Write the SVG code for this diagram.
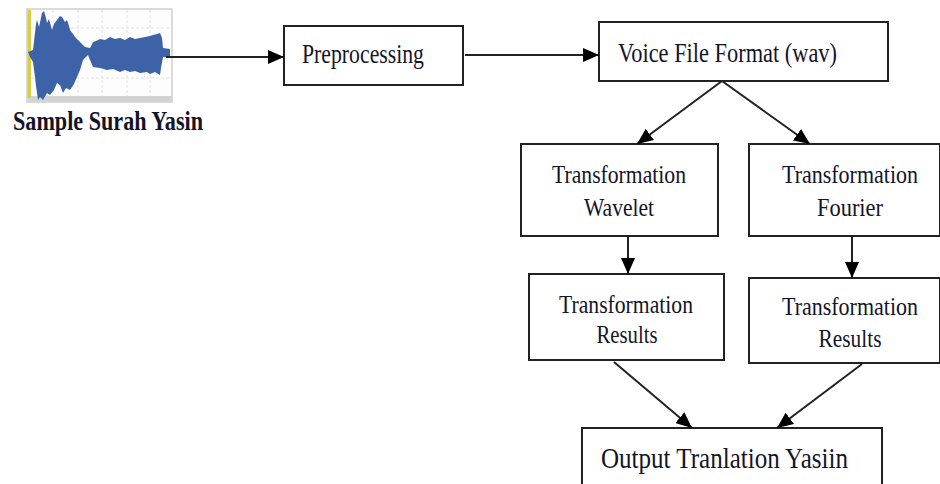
<svg xmlns="http://www.w3.org/2000/svg" width="940" height="484" viewBox="0 0 940 484">
<style>
.box{fill:#fff;stroke:#222;stroke-width:2}
.t{font-family:"Liberation Serif","Times New Roman",serif;fill:#141428}
.m{text-anchor:middle}
.c{stroke:#222;stroke-width:2;fill:none}
.grid{stroke:#e2e2e2;stroke-width:1;stroke-dasharray:3 2}
</style>
<defs>
<marker id="ah" viewBox="0 0 16 14" refX="16" refY="7" markerWidth="16" markerHeight="14" markerUnits="userSpaceOnUse" orient="auto">
<path d="M0,0 L16,7 L0,14 Z" fill="#000"/>
</marker>
</defs>
<g id="sample">
<rect x="27" y="9" width="145" height="93" fill="#fdfdfd" stroke="#d0d0d0" stroke-width="1.5"/>
<rect x="28" y="96" width="144" height="6" fill="#d3d3d3"/>
<g class="grid">
<line x1="53" y1="10" x2="53" y2="96"/><line x1="78" y1="10" x2="78" y2="96"/><line x1="102" y1="10" x2="102" y2="96"/><line x1="127" y1="10" x2="127" y2="96"/><line x1="150" y1="10" x2="150" y2="96"/>
<line x1="31" y1="28" x2="171" y2="28"/><line x1="31" y1="53" x2="171" y2="53"/><line x1="31" y1="78" x2="171" y2="78"/>
</g>
<rect x="27.5" y="10" width="3.5" height="88" fill="#d8d040"/>
<path fill="#3d62a8" d="M28,52 L33,50 L36,24 L37,20 L39,27 L42,13 L44,11 L46,18 L47,23 L49,19 L52,30 L54,24 L57,20 L60,16 L62,17 L65,22 L67,20 L69,26 L70,30 L73,34 L75,37 L78,40 L80,42 L83,45 L85,47 L90,48 L93,42 L96,41 L100,39 L105,40 L110,37 L115,39 L120,38 L125,40 L130,37 L135,39 L140,38 L145,37 L150,36 L153,35 L157,34 L160,33 L162,38 L163,48 L170,49 L170,57 L163,57 L161,68 L160,75 L155,72 L150,74 L147,72 L140,73 L135,71 L130,72 L125,70 L120,72 L113,69 L107,70 L100,68 L93,67 L90,60 L88,55 L85,58 L83,60 L80,70 L77,77 L74,84 L70,90 L66,88 L63,93 L60,85 L57,83 L54,90 L50,95 L47,93 L43,100 L40,97 L38,100 L36,86 L35,77 L33,62 L30,57 Z"/>
<text class="t" x="13" y="130" font-size="27" font-weight="bold" textLength="190" lengthAdjust="spacingAndGlyphs">Sample Surah Yasin</text>
</g>
<g id="preprocessing">
<rect class="box" x="284" y="26" width="179" height="59"/>
<text class="t" x="302" y="63" font-size="27" textLength="122" lengthAdjust="spacingAndGlyphs">Preprocessing</text>
</g>
<g id="voice">
<rect class="box" x="599" y="22" width="289" height="59"/>
<text class="t" x="618" y="62" font-size="27" textLength="219" lengthAdjust="spacingAndGlyphs">Voice File Format (wav)</text>
</g>
<g id="wavelet">
<rect class="box" x="521" y="144" width="197" height="92"/>
<text class="t m" x="619" y="183" font-size="26" textLength="134" lengthAdjust="spacingAndGlyphs">Transformation</text>
<text class="t m" x="619" y="216" font-size="26" textLength="70" lengthAdjust="spacingAndGlyphs">Wavelet</text>
</g>
<g id="fourier">
<rect class="box" x="749" y="144" width="191" height="92"/>
<text class="t m" transform="translate(850,183) scale(1,1.18)" x="0" y="0" font-size="22">Transformation</text>
<text class="t m" x="850" y="216" font-size="26" textLength="66" lengthAdjust="spacingAndGlyphs">Fourier</text>
</g>
<g id="results-wavelet">
<rect class="box" x="529" y="274" width="195" height="86"/>
<text class="t m" x="626" y="313" font-size="26" textLength="134" lengthAdjust="spacingAndGlyphs">Transformation</text>
<text class="t m" x="627" y="343" font-size="26" textLength="61" lengthAdjust="spacingAndGlyphs">Results</text>
</g>
<g id="results-fourier">
<rect class="box" x="749" y="278" width="191" height="85"/>
<text class="t m" transform="translate(850,315) scale(1,1.18)" x="0" y="0" font-size="22">Transformation</text>
<text class="t m" x="850" y="347" font-size="26" textLength="63" lengthAdjust="spacingAndGlyphs">Results</text>
</g>
<g id="output">
<rect class="box" x="582" y="428" width="300" height="70"/>
<text class="t" x="601" y="468" font-size="29" textLength="247" lengthAdjust="spacingAndGlyphs">Output Tranlation Yasiin</text>
</g>
<g id="connectors">
<line class="c" x1="166" y1="57" x2="284" y2="57" marker-end="url(#ah)"/>
<line class="c" x1="465" y1="55" x2="599" y2="55" marker-end="url(#ah)"/>
<line class="c" x1="722" y1="81" x2="637" y2="144" marker-end="url(#ah)"/>
<line class="c" x1="722" y1="81" x2="810" y2="144" marker-end="url(#ah)"/>
<line class="c" x1="628" y1="236" x2="628" y2="274" marker-end="url(#ah)"/>
<line class="c" x1="852" y1="236" x2="852" y2="278" marker-end="url(#ah)"/>
<line class="c" x1="614" y1="362" x2="692" y2="428" marker-end="url(#ah)"/>
<line class="c" x1="862" y1="364" x2="777" y2="428" marker-end="url(#ah)"/>
</g>
</svg>
